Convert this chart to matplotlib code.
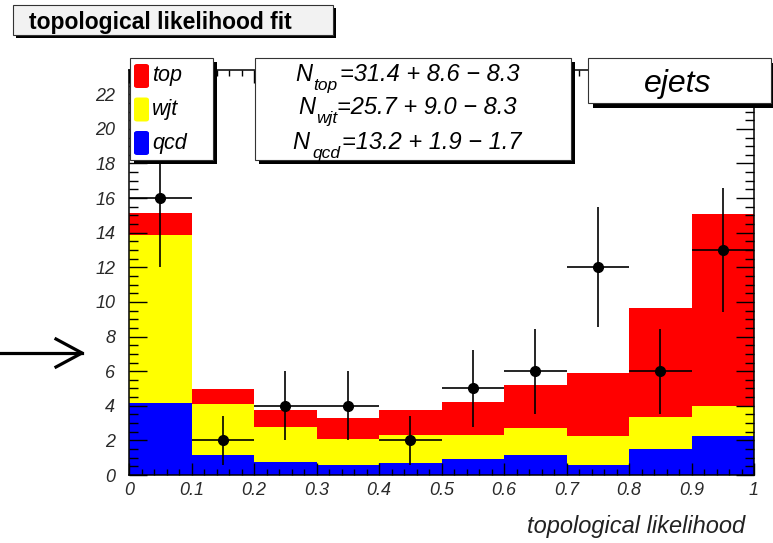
import matplotlib
matplotlib.use('Agg')
import matplotlib.pyplot as plt
from matplotlib.patches import Rectangle, FancyBboxPatch
from matplotlib.lines import Line2D

plt.rcParams['font.family'] = ['Liberation Sans', 'DejaVu Sans']

# 빈 경계와 각 성분 (stacked)
bin_lo = [0.0, 0.1, 0.2, 0.3, 0.4, 0.5, 0.6, 0.7, 0.8, 0.9]
qcd = [4.15, 1.16, 0.77, 0.56, 0.71, 0.91, 1.18, 0.55, 1.50, 2.28]
wjt = [9.70, 2.92, 2.02, 1.51, 1.61, 1.41, 1.54, 1.69, 1.85, 1.72]
top = [1.30, 0.91, 0.97, 1.25, 1.43, 1.87, 2.48, 3.64, 6.28, 11.10]

# 데이터 포인트
data_x = [0.05, 0.15, 0.25, 0.35, 0.45, 0.55, 0.65, 0.75, 0.85, 0.95]
data_y = [16, 2, 4, 4, 2, 5, 6, 12, 6, 13]
data_err = [4.0, 1.41, 2.0, 2.0, 1.41, 2.24, 2.45, 3.46, 2.45, 3.61]

x_ticks = [0.0, 0.1, 0.2, 0.3, 0.4, 0.5, 0.6, 0.7, 0.8, 0.9, 1.0]
x_ticklabels = ['0', '0.1', '0.2', '0.3', '0.4', '0.5', '0.6', '0.7', '0.8', '0.9', '1']
y_ticks = [0, 2, 4, 6, 8, 10, 12, 14, 16, 18, 20, 22]
y_ticklabels = ['0', '2', '4', '6', '8', '10', '12', '14', '16', '18', '20', '22']

legend_names = ['top', 'wjt', 'qcd']
legend_colors = ['#ff0000', '#ffff00', '#0000ff']
fit_subs = ['top', 'wjt', 'qcd']
fit_vals = ['=31.4 + 8.6 \u2212 8.3', '=25.7 + 9.0 \u2212 8.3', '=13.2 + 1.9 \u2212 1.7']
# 각 줄 배치 (N x, 아래첨자 x, 본문 x, baseline y) - 픽셀
fit_pos = [(295, 313, 340, 81), (298, 316, 337, 114), (292, 312, 342, 149)]

W, H = 773, 543
fig = plt.figure(figsize=(W / 100, H / 100), dpi=100)
fig.patch.set_facecolor('white')

# 픽셀 좌표 -> figure 좌표
def fx(x):
    return x / W

def fy(y):
    return 1 - y / H

ax = fig.add_axes([fx(129), fy(475), (754 - 129) / W, (475 - 70) / H])

yellow_top = [q + w for q, w in zip(qcd, wjt)]
ax.bar(bin_lo, qcd, width=0.1, align='edge', color='#0000ff', linewidth=0)
ax.bar(bin_lo, wjt, width=0.1, align='edge', bottom=qcd, color='#ffff00', linewidth=0)
ax.bar(bin_lo, top, width=0.1, align='edge', bottom=yellow_top, color='#ff0000', linewidth=0)

ax.errorbar(data_x, data_y, xerr=0.05, yerr=data_err, fmt='o', color='black',
            markersize=7, elinewidth=1.2, capsize=0)

ax.set_xlim(0, 1)
ax.set_ylim(0, 23.4)
ax.set_xticks(x_ticks)
ax.set_xticklabels(x_ticklabels, fontstyle='italic', fontsize=13, color='#2a2a2a')
ax.set_xticks([i * 0.02 for i in range(51)], minor=True)
ax.set_yticks(y_ticks)
ax.set_yticklabels(y_ticklabels, fontstyle='italic', fontsize=13, color='#2a2a2a')
ax.set_yticks([i * 0.5 for i in range(47)], minor=True)

ax.tick_params(axis='x', which='major', direction='in', length=9, width=1, top=True, pad=5)
ax.tick_params(axis='x', which='minor', direction='in', length=4.5, width=1, top=True)
ax.tick_params(axis='y', which='major', direction='in', length=13, width=1, right=True, pad=10)
ax.tick_params(axis='y', which='minor', direction='in', length=6.5, width=1, right=True)
for sp in ax.spines.values():
    sp.set_linewidth(1.1)

def box(x0, y0, x1, y1, fc='white', sh=4):
    fig.patches.append(Rectangle((fx(x0 + sh), fy(y1 + sh)), (x1 - x0) / W, (y1 - y0) / H,
                                 transform=fig.transFigure, facecolor='black',
                                 edgecolor='none', zorder=5))
    fig.patches.append(Rectangle((fx(x0), fy(y1)), (x1 - x0) / W, (y1 - y0) / H,
                                 transform=fig.transFigure, facecolor=fc,
                                 edgecolor='#333333', linewidth=0.8, zorder=6))

# 제목 박스
box(13, 5, 333, 35, fc='#f2f2f2', sh=3)
fig.text(fx(29), fy(29), 'topological likelihood fit', fontsize=16.5, fontweight='bold',
         ha='left', va='baseline', zorder=7)

# 범례 박스
box(130, 58, 213, 160)
for i, (name, col) in enumerate(zip(legend_names, legend_colors)):
    yc = 76 + i * 33.5
    fig.patches.append(FancyBboxPatch((fx(134), fy(yc + 12)), 15 / W, 24 / H,
                                      boxstyle='round,pad=0.0,rounding_size=0.004',
                                      transform=fig.transFigure, facecolor=col,
                                      edgecolor='none', zorder=7))
    fig.text(fx(152), fy(yc), name, fontsize=15.5, fontstyle='italic',
             ha='left', va='center', zorder=8)

# 피팅 결과 박스
box(255, 58, 571, 160)
for sub, val, (xn, xs, xm, yb) in zip(fit_subs, fit_vals, fit_pos):
    fig.text(fx(xn), fy(yb), 'N', fontsize=17, fontstyle='italic',
             ha='left', va='baseline', zorder=8)
    fig.text(fx(xs), fy(yb + 9), sub, fontsize=12.5, fontstyle='italic',
             ha='left', va='baseline', zorder=8)
    fig.text(fx(xm), fy(yb), val, fontsize=17, fontstyle='italic',
             ha='left', va='baseline', zorder=8)

# ejets 박스
box(588, 58, 771, 103, sh=5)
fig.text(fx(678), fy(84), 'ejets', fontsize=23, fontstyle='italic',
         ha='center', va='center', zorder=8)

fig.text(fx(745), fy(527), 'topological likelihood', fontsize=17, fontstyle='italic',
         ha='right', va='center', color='#222222')

# 왼쪽 화살표
fig.add_artist(Line2D([fx(0), fx(82)], [fy(353), fy(353)], color='black', linewidth=2.3))
fig.add_artist(Line2D([fx(56), fx(82), fx(56)], [fy(339), fy(353), fy(367)],
                      color='black', linewidth=2.3))

fig.savefig('out.png', dpi=100)
